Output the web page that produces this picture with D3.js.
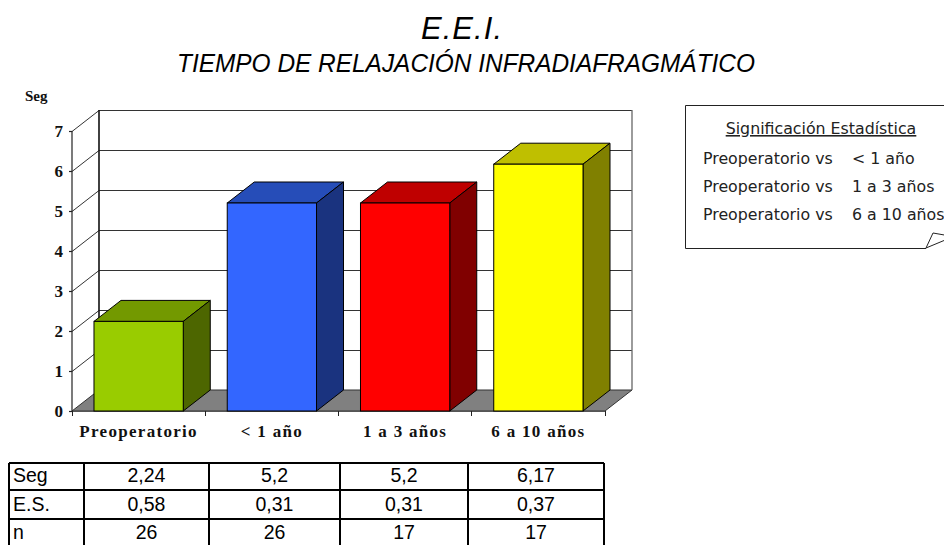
<!DOCTYPE html>
<html><head><meta charset="utf-8">
<script src="https://cdn.jsdelivr.net/npm/d3@7"></script>
<style>html,body{margin:0;background:#fff;overflow:hidden}svg{display:block}</style>
</head><body><svg id="c" width="944" height="545"></svg>
<script>
const categories = ["Preoperatorio", "< 1 año", "1 a 3 años", "6 a 10 años"];
const segValues = [2.24, 5.2, 5.2, 6.17];
const esValues = [0.58, 0.31, 0.31, 0.37];
const nValues = [26, 26, 17, 17];
const yTicks = [0, 1, 2, 3, 4, 5, 6, 7];
const faceColors = ["#99cc00", "#3366ff", "#ff0000", "#ffff00"];
const topColors = ["#739900", "#264db8", "#bf0000", "#bfbf00"];
const sideColors = ["#4d6600", "#1a337f", "#800000", "#808000"];
const noteTitle = "Significación Estadística";
const noteRows = [["Preoperatorio vs", "< 1 año"], ["Preoperatorio vs", "1 a 3 años"], ["Preoperatorio vs", "6 a 10 años"]];
const fmt = v => String(v).replace(".", ",");

const svg = d3.select("#c");
const x = d3.scaleBand().domain(categories).range([72, 605]).padding(0.33).paddingOuter(0.165);
const y = d3.scaleLinear().domain([0, 7]).range([411, 131]);
const dx = 27, dy = -21;
const serif = "'Liberation Serif','Times New Roman',serif";
const sans = "'Liberation Sans',Arial,sans-serif";

// titles
svg.append("text").attr("x", 421).attr("y", 39)
  .attr("font-family", sans).attr("font-style", "italic").attr("font-weight", 300)
  .attr("font-size", 31).attr("textLength", 81).attr("lengthAdjust", "spacing").text("E.E.I.");
svg.append("text").attr("x", 177).attr("y", 72)
  .attr("font-family", sans).attr("font-style", "italic")
  .attr("font-size", 26).attr("textLength", 578).attr("lengthAdjust", "spacingAndGlyphs").text("TIEMPO DE RELAJACIÓN INFRADIAFRAGMÁTICO");
svg.append("text").attr("x", 25).attr("y", 101).attr("font-family", serif).attr("font-weight", "bold")
  .attr("font-size", 15).attr("fill", "#111").text("Seg");

// floor
const [x0, x1] = x.range();
const y0 = y(0);
svg.append("path").attr("fill", "#808080").attr("stroke", "#333").attr("stroke-width", 1)
  .attr("d", `M${x0},${y0}L${x0 + dx},${y0 + dy}H${x1 + dx}L${x1},${y0}Z`);

// walls and gridlines
const grid = svg.append("g").attr("fill", "none").attr("stroke", "#333");
yTicks.filter(t => t > 0).forEach(t => {
  grid.append("path").attr("stroke-width", 1).attr("shape-rendering", "crispEdges")
    .attr("d", `M${x0 + dx},${y(t) + dy + 0.5}H${x1 + dx}`);
  grid.append("path").attr("stroke-width", 1)
    .attr("d", `M${x0},${y(t) + 0.5}L${x0 + dx},${y(t) + dy + 0.5}`);
});
grid.append("path").attr("stroke", "#111").attr("stroke-width", 1.6)
  .attr("d", `M${x0 + dx},${y(7) + dy}V${y0 + dy}`);
grid.append("path").attr("stroke", "#666").attr("stroke-width", 1.3)
  .attr("d", `M${x1 + dx},${y(7) + dy}V${y0 + dy}`);

// axes
const yAxis = svg.append("g").attr("transform", `translate(${x0},0)`)
  .call(d3.axisLeft(y).tickValues(yTicks).tickSize(3).tickPadding(6).tickFormat(d3.format("d")));
yAxis.selectAll("text").attr("font-family", serif).attr("font-weight", "bold").attr("font-size", 17).attr("fill", "#111");
yAxis.selectAll("line").attr("stroke", "#222").attr("stroke-width", 1.2);
yAxis.select(".domain").attr("stroke", "#222").attr("stroke-width", 1.2).attr("d", `M0,${y(7)}V${y0}`);

const xAxis = svg.append("g").attr("transform", `translate(0,${y0})`);
xAxis.append("path").attr("stroke", "#555").attr("stroke-width", 1.2).attr("fill", "none")
  .attr("d", `M${x0},0.5H${x1}`);
xAxis.selectAll("line.t").data(categories.concat(["end"])).join("line").attr("class", "t")
  .attr("x1", (d, i) => x0 + i * (x1 - x0) / categories.length)
  .attr("x2", (d, i) => x0 + i * (x1 - x0) / categories.length)
  .attr("y1", 0).attr("y2", 5).attr("stroke", "#222").attr("shape-rendering", "crispEdges");
xAxis.selectAll("text").data(categories).join("text")
  .attr("x", d => x(d) + x.bandwidth() / 2).attr("y", 26).attr("text-anchor", "middle")
  .attr("font-family", serif).attr("font-weight", "bold").attr("font-size", 17).attr("letter-spacing", 1.3)
  .attr("fill", "#111").text(d => d);

// 3D bars
const bars = svg.append("g").selectAll("g").data(categories).join("g");
const vOf = (d) => segValues[categories.indexOf(d)];
bars.append("path").attr("fill", (d, i) => topColors[i]).attr("stroke", "#000")
  .attr("d", d => { const l = x(d), r = l + x.bandwidth(), t = y(vOf(d));
    return `M${l},${t}L${l + dx},${t + dy}H${r + dx}L${r},${t}Z`; });
bars.append("path").attr("fill", (d, i) => sideColors[i]).attr("stroke", "#000")
  .attr("d", d => { const r = x(d) + x.bandwidth(), t = y(vOf(d));
    return `M${r},${t}L${r + dx},${t + dy}V${y0 + dy}L${r},${y0}Z`; });
bars.append("rect").attr("fill", (d, i) => faceColors[i]).attr("stroke", "#000")
  .attr("x", d => x(d)).attr("width", x.bandwidth())
  .attr("y", d => y(vOf(d))).attr("height", d => y0 - y(vOf(d)));

// data table
const colEdges = [9, 84, 209, 340, 468, 604];
const rowEdges = [463, 490, 519, 546];
const rowBase = [482, 511, 539];
const rows = [["Seg", segValues], ["E.S.", esValues], ["n", nValues]];
const tbl = svg.append("g");
rows.forEach((row, r) => {
  tbl.append("text").attr("x", colEdges[0] + 4).attr("y", rowBase[r])
    .attr("font-family", sans).attr("font-size", 19.5).text(row[0]);
  row[1].forEach((v, c) => {
    tbl.append("text").attr("x", (colEdges[c + 1] + colEdges[c + 2]) / 2).attr("y", rowBase[r])
      .attr("text-anchor", "middle").attr("font-family", sans).attr("font-size", 19.5).text(fmt(v));
  });
});
tbl.append("g").attr("stroke", "#000").attr("stroke-width", 2).selectAll("line.v").data(colEdges).join("line")
  .attr("x1", d => d).attr("x2", d => d).attr("y1", rowEdges[0]).attr("y2", 546);
tbl.append("g").attr("stroke", "#000").attr("stroke-width", 2).selectAll("line.h").data(rowEdges).join("line")
  .attr("x1", colEdges[0]).attr("x2", colEdges[5]).attr("y1", d => d).attr("y2", d => d);

// note
const note = svg.append("g");
note.append("path").attr("fill", "#fff").attr("stroke", "#222").attr("stroke-width", 1)
  .attr("d", "M960,105.5H685.5V248.5H926");
note.append("path").attr("fill", "none").attr("stroke", "#222")
  .attr("d", "M926,248L933,233L950,236M926,248L950,238");
const nf = "'DejaVu Sans',Verdana,sans-serif";
note.append("text").attr("x", 821).attr("y", 134).attr("text-anchor", "middle").attr("font-family", nf)
  .attr("font-size", 15.8).attr("fill", "#222").attr("text-decoration", "underline").text(noteTitle);
noteRows.forEach((r, i) => {
  note.append("text").attr("x", 703).attr("y", 163.5 + i * 28).attr("font-family", nf).attr("font-size", 15.8).attr("fill", "#222").text(r[0]);
  note.append("text").attr("x", 852).attr("y", 163.5 + i * 28).attr("font-family", nf).attr("font-size", 15.8).attr("fill", "#222").text(r[1]);
});
</script></body></html>
